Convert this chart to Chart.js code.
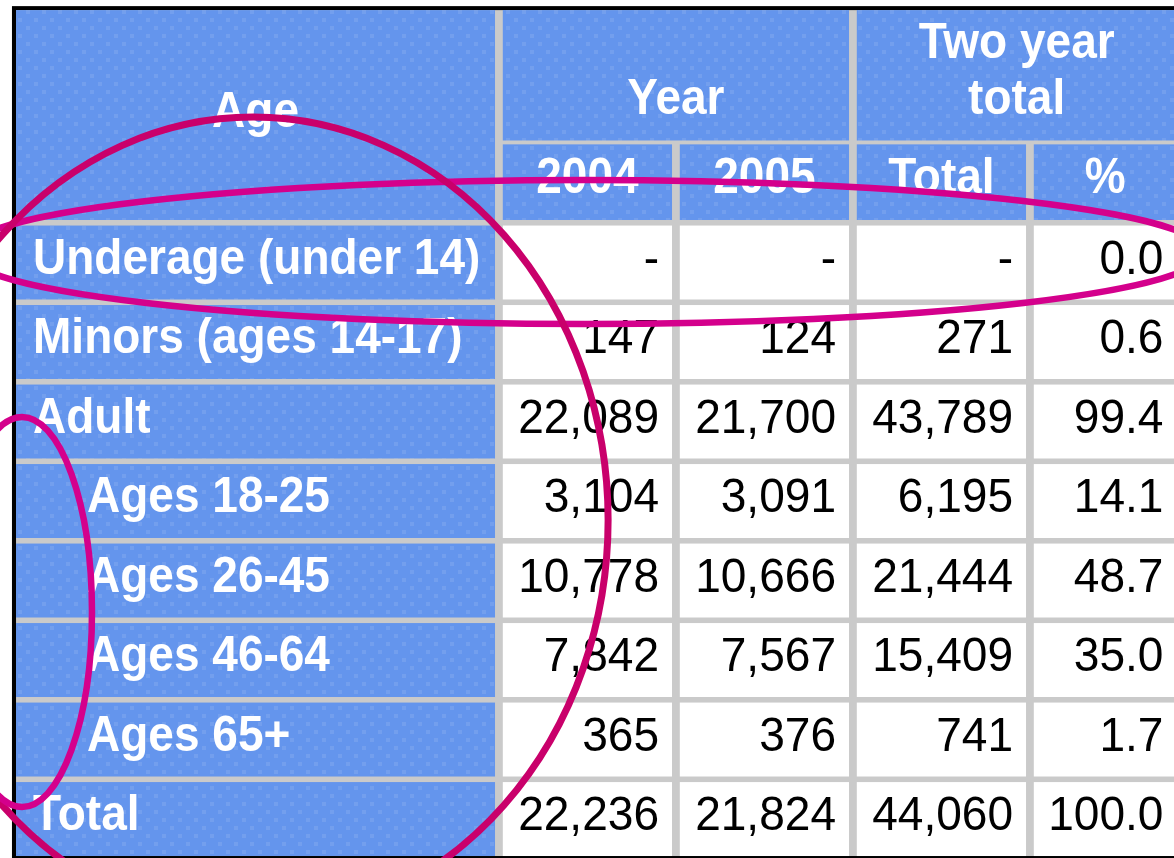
<!DOCTYPE html>
<html>
<head>
<meta charset="utf-8">
<script src="https://cdn.jsdelivr.net/npm/chart.js@4.4.1/dist/chart.umd.min.js"></script>
<style>
html,body{margin:0;padding:0;background:#fff;}
canvas{display:block;}
</style>
</head>
<body>
<canvas id="c" width="1174" height="858"></canvas>
<script>
// ---------- DATA ----------
const ageGroups = ["Underage (under 14)", "Minors (ages 14-17)", "Adult", "Ages 18-25", "Ages 26-45", "Ages 46-64", "Ages 65+", "Total"];
const subGroupLevel = [0, 0, 0, 1, 1, 1, 1, 0];
const columnLabels = ["2004", "2005", "Total", "%"];
const groupLabels = [["Year"], ["Two year", "total"]];
const ageHeader = "Age";
const values2004 = [null, 147, 22089, 3104, 10778, 7842, 365, 22236];
const values2005 = [null, 124, 21700, 3091, 10666, 7567, 376, 21824];
const twoYearTotal = [null, 271, 43789, 6195, 21444, 15409, 741, 44060];
const twoYearPercent = [0.0, 0.6, 99.4, 14.1, 48.7, 35.0, 1.7, 100.0];

// ---------- LAYOUT (table units: 1 x-unit = one data column, 1 y-unit = one row) ----------
const L = {
  colW: [1, 1, 1, 0.85],
  groupSpan: [[0, 1], [2, 3]],
  ageW: 2.706,
  borderX: 0.023, borderY: 0.05,
  headTop: -2.64, subTop: -1,
  gx: 0.044, gy: 0.07,
  xMin: -2.7966, xMax: 3.836,
  yMin: -2.767, yMax: 8.025
};
const colStart = L.colW.map((w, i) => L.colW.slice(0, i).reduce((a, b) => a + b, 0));
const colCenter = i => colStart[i] + (L.gx + L.colW[i]) / 2;

const BLUE = '#6495ED', GRAY = '#cacaca', WHITE = '#ffffff';
const FONT = "'Liberation Sans', Arial, sans-serif";
const headFont = 'bold 50px ' + FONT;
const numFont = '49px ' + FONT;

// Annotation ellipses (in table units)
const annotations = [
  { cu: 0.508, cv: 0.403, ru: 3.503, rv: 0.906, color: '#d4008c', lw: 6.5 },
  { cu: -1.367, cv: 3.774, ru: 2.006, rv: 5.069, color: '#c9006b', lw: 7 },
  { cu: -2.672, cv: 4.931, ru: 0.395, rv: 2.453, color: '#d4008c', lw: 6.5 }
];

const seriesCols = [values2004, values2005, twoYearTotal, twoYearPercent];

function makePattern(ctx) {
  const p = document.createElement('canvas');
  p.width = 16; p.height = 16;
  const c = p.getContext('2d');
  c.fillStyle = BLUE; c.fillRect(0, 0, 16, 16);
  c.fillStyle = 'rgba(255,255,255,0.10)';
  c.fillRect(2, 2, 4, 4); c.fillRect(10, 10, 4, 4);
  return ctx.createPattern(p, 'repeat');
}

function txt(ctx, s, x, y, align, font, color, sx) {
  ctx.save();
  ctx.translate(x, y);
  ctx.scale(sx, 1);
  ctx.font = font;
  ctx.fillStyle = color;
  ctx.textAlign = align;
  ctx.textBaseline = 'alphabetic';
  ctx.fillText(s, 0, 0);
  ctx.restore();
}

const tablePlugin = {
  id: 'tablePlugin',
  beforeDraw(chart) {
    const ctx = chart.ctx, xs = chart.scales.x, ys = chart.scales.y;
    const X = v => xs.getPixelForValue(v), Y = v => ys.getPixelForValue(v);
    const W = chart.width, H = chart.height;
    const blue = makePattern(ctx);
    const rect = (u0, u1, v0, v1, fill) => {
      ctx.fillStyle = fill;
      ctx.fillRect(X(u0), Y(v0), X(u1) - X(u0), Y(v1) - Y(v0));
    };
    ctx.save();
    ctx.fillStyle = '#fff'; ctx.fillRect(0, 0, W, H);
    // black frame
    const bl = X(-L.ageW - L.borderX), bt = Y(L.headTop - L.borderY);
    ctx.fillStyle = '#000'; ctx.fillRect(bl, bt, W - bl, H - bt);
    // gray grid background
    const il = X(-L.ageW), it = Y(L.headTop), ib = Y(ageGroups.length);
    ctx.fillStyle = GRAY; ctx.fillRect(il, it, W - il, ib - it);
    // Age header cell
    rect(-L.ageW, 0, L.headTop, 0, blue);
    // group header cells
    L.groupSpan.forEach(([a, b]) => rect(colStart[a] + L.gx, colStart[b] + L.colW[b], L.headTop, L.subTop, blue));
    // sub header cells
    columnLabels.forEach((_, i) => rect(colStart[i] + L.gx, colStart[i] + L.colW[i], L.subTop + L.gy * 0.7, 0, blue));
    // body rows
    ageGroups.forEach((_, r) => {
      rect(-L.ageW, 0, r + L.gy, r + 1, blue);
      columnLabels.forEach((__, i) => rect(colStart[i] + L.gx, colStart[i] + L.colW[i], r + L.gy, r + 1, WHITE));
    });
    // header texts
    const sx = 0.92;
    txt(ctx, ageHeader, (X(-L.ageW) + X(0)) / 2, (Y(L.headTop) + Y(0)) / 2 + 12, 'center', headFont, '#fff', sx);
    L.groupSpan.forEach(([a, b], g) => {
      const cx = (X(colStart[a] + L.gx) + X(colStart[b] + L.colW[b])) / 2;
      const lines = groupLabels[g];
      const bottom = Y(L.subTop) - 26;
      lines.forEach((ln, k) => txt(ctx, ln, cx, bottom - (lines.length - 1 - k) * 56, 'center', headFont, '#fff', sx));
    });
    columnLabels.forEach((lab, i) => {
      const cx = (X(colStart[i] + L.gx) + X(colStart[i] + L.colW[i])) / 2;
      const cy = (Y(L.subTop + L.gy * 0.7) + Y(0)) / 2;
      txt(ctx, lab, cx, cy + 11, 'center', headFont, '#fff', sx);
    });
    ageGroups.forEach((lab, r) => {
      const cy = (Y(r + L.gy) + Y(r + 1)) / 2;
      txt(ctx, lab, X(-L.ageW) + (subGroupLevel[r] ? 71 : 17), cy + 11, 'left', headFont, '#fff', sx);
    });
    ctx.restore();
  },
  afterDatasetsDraw(chart) {
    const ctx = chart.ctx, xs = chart.scales.x;
    chart.data.datasets.forEach((ds, ci) => {
      const meta = chart.getDatasetMeta(ci);
      const right = xs.getPixelForValue(colStart[ci] + L.colW[ci]) - 13;
      meta.data.forEach((el, r) => {
        const v = ds.data[r].v;
        const s = ci === 3 ? v.toFixed(1) : (v === null ? '-' : v.toLocaleString('en-US'));
        txt(ctx, s, right, el.y + 11, 'right', numFont, '#000', 0.94);
      });
    });
  },
  afterDraw(chart) {
    const ctx = chart.ctx, xs = chart.scales.x, ys = chart.scales.y;
    const X = v => xs.getPixelForValue(v), Y = v => ys.getPixelForValue(v);
    ctx.save();
    annotations.forEach(a => {
      ctx.beginPath();
      ctx.ellipse(X(a.cu), Y(a.cv), Math.abs(X(a.cu + a.ru) - X(a.cu)), Math.abs(Y(a.cv + a.rv) - Y(a.cv)), 0, 0, Math.PI * 2);
      ctx.strokeStyle = a.color;
      ctx.lineWidth = a.lw;
      ctx.stroke();
    });
    ctx.restore();
  }
};

const datasets = seriesCols.map((vals, ci) => ({
  type: 'scatter',
  label: columnLabels[ci],
  data: vals.map((v, r) => ({ x: colCenter(ci), y: r + (1 + L.gy) / 2, v })),
  pointRadius: 0,
  pointHoverRadius: 0,
  showLine: false
}));

new Chart(document.getElementById('c'), {
  type: 'scatter',
  data: { labels: ageGroups, datasets },
  options: {
    responsive: false,
    devicePixelRatio: 1,
    animation: false,
    events: [],
    layout: { padding: 0 },
    plugins: { legend: { display: false }, tooltip: { enabled: false }, title: { display: false } },
    scales: {
      x: { type: 'linear', display: false, min: L.xMin, max: L.xMax },
      y: { type: 'linear', display: false, min: L.yMin, max: L.yMax, reverse: true }
    }
  },
  plugins: [tablePlugin]
});
</script>
</body>
</html>
